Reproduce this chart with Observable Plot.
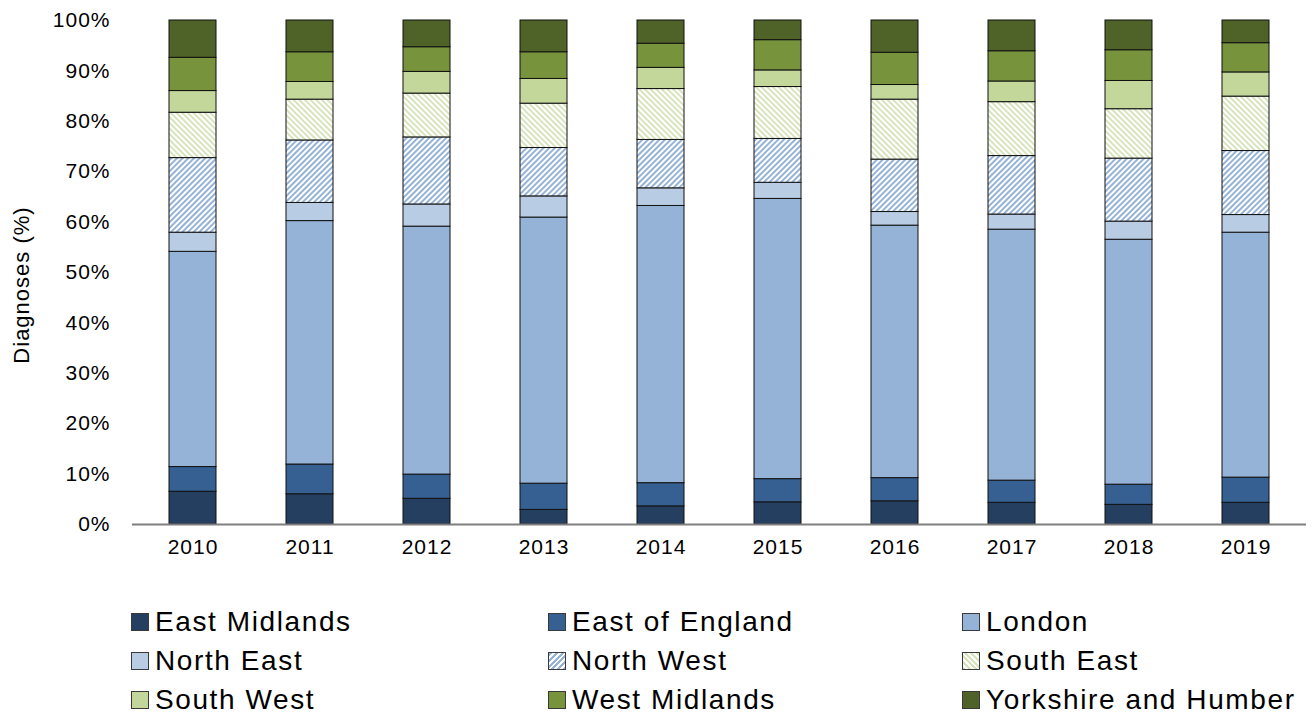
<!DOCTYPE html>
<html>
<head>
<meta charset="utf-8">
<script src="https://cdn.jsdelivr.net/npm/d3@7"></script>
<script src="https://cdn.jsdelivr.net/npm/@observablehq/plot@0.6"></script>
<style>
  body { margin: 0; background: #fff; font-family: "Liberation Sans", Arial, sans-serif; }
  #wrap { position: relative; width: 1314px; height: 715px; }
  .item { position: absolute; height: 40px; display: flex; align-items: center; font-size: 28px; letter-spacing: 1.6px; color: #000; white-space: nowrap; }
  .sw { width: 16px; height: 16px; border: 1px solid #3a3a3a; margin-right: 6px; flex: none; }
</style>
</head>
<body>
<div id="wrap"></div>
<script>
const years = ["2010","2011","2012","2013","2014","2015","2016","2017","2018","2019"];
const regions = ["East Midlands","East of England","London","North East","North West","South East","South West","West Midlands","Yorkshire and Humber"];
const eastMidlands   = [6.5, 6.0, 5.1, 2.9, 3.6, 4.4, 4.6, 4.3, 3.9, 4.3];
const eastOfEngland  = [4.9, 5.9, 4.8, 5.2, 4.6, 4.6, 4.6, 4.4, 4.0, 5.0];
const london         = [42.7, 48.3, 49.2, 52.8, 55.0, 55.6, 50.1, 49.8, 48.6, 48.6];
const northEast      = [3.8, 3.6, 4.4, 4.2, 3.5, 3.2, 2.7, 3.0, 3.6, 3.5];
const northWest      = [14.8, 12.4, 13.3, 9.6, 9.6, 8.7, 10.4, 11.6, 12.5, 12.7];
const southEast      = [9.0, 8.1, 8.7, 8.8, 10.1, 10.3, 11.9, 10.7, 9.8, 10.8];
const southWest      = [4.3, 3.5, 4.3, 4.9, 4.2, 3.3, 2.9, 4.1, 5.6, 4.8];
const westMidlands   = [6.6, 5.9, 4.9, 5.3, 4.8, 6.0, 6.4, 6.0, 6.1, 5.8];
const yorkshire      = [7.4, 6.3, 5.3, 6.3, 4.6, 3.9, 6.4, 6.1, 5.9, 4.5];
const yTicks = [0,10,20,30,40,50,60,70,80,90,100];

const series = [eastMidlands, eastOfEngland, london, northEast, northWest, southEast, southWest, westMidlands, yorkshire];
const fills = ["#243F60","#366092","#95B3D7","#B8CCE4","url(#hatchNW)","url(#hatchSE)","#C4D79B","#77933C","#4F6228"];
const swatchCss = ["#243F60","#366092","#95B3D7","#B8CCE4",
  "repeating-linear-gradient(-45deg, #95B3D7 0 2px, #fff 2px 4px)",
  "repeating-linear-gradient(45deg, #D7E4BD 0 2px, #fff 2px 4px)",
  "#C4D79B","#77933C","#4F6228"];

const data = [];
years.forEach((y, i) => regions.forEach((r, j) => data.push({year: y, region: r, value: series[j][i]})));

const chart = Plot.plot({
  width: 1314,
  height: 580,
  marginTop: 20,
  marginBottom: 56,
  marginLeft: 132,
  marginRight: 8,
  style: {fontFamily: "'Liberation Sans', Arial, sans-serif", fontSize: "21px", color: "#000", letterSpacing: "1px", background: "#fff"},
  x: {domain: years, paddingInner: 0.6, paddingOuter: 0.3, tickSize: 0, tickPadding: 15, label: null},
  y: {domain: [0, 100], ticks: yTicks, tickFormat: d => d + "%", tickSize: 0, tickPadding: 22, label: null},
  color: {domain: regions, range: fills},
  marks: [
    Plot.barY(data, {x: "year", y: "value", fill: "region", stroke: "#111", strokeWidth: 1, inset: 0}),
    Plot.ruleY([0], {stroke: "#7f7f7f", strokeWidth: 2})
  ]
});

const svg = d3.select(chart);
svg.insert("defs", ":first-child").html(`
  <pattern id="hatchNW" patternUnits="userSpaceOnUse" width="4" height="4" patternTransform="rotate(45)">
    <rect width="4" height="4" fill="#fff"/><rect width="2" height="4" fill="#95B3D7"/>
  </pattern>
  <pattern id="hatchSE" patternUnits="userSpaceOnUse" width="4" height="4" patternTransform="rotate(-45)">
    <rect width="4" height="4" fill="#fff"/><rect width="2" height="4" fill="#D7E4BD"/>
  </pattern>`);
svg.append("text")
  .attr("transform", "translate(29,285) rotate(-90)")
  .attr("text-anchor", "middle")
  .attr("font-size", 22)
  .attr("fill", "#000")
  .text("Diagnoses (%)");

const wrap = document.getElementById("wrap");
wrap.appendChild(chart);
const colX = [131, 548, 962];
const rowY = [602, 641, 680];
regions.forEach((r, i) => {
  const it = document.createElement("div");
  it.className = "item";
  it.style.left = colX[i % 3] + "px";
  it.style.top = rowY[Math.floor(i / 3)] + "px";
  const sw = document.createElement("span");
  sw.className = "sw";
  sw.style.background = swatchCss[i];
  const tx = document.createElement("span");
  tx.textContent = r;
  it.appendChild(sw); it.appendChild(tx);
  wrap.appendChild(it);
});
</script>
</body>
</html>
